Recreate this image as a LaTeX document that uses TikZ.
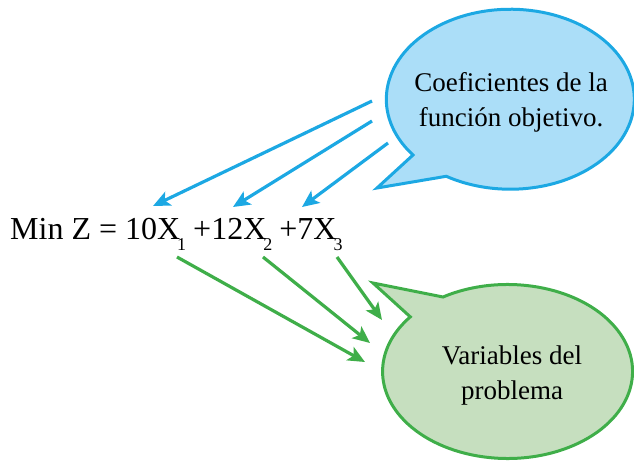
\documentclass[tikz,border=0pt]{standalone}
\usepackage{fontspec}
\setmainfont{Liberation Serif}
\usetikzlibrary{arrows.meta}
\definecolor{bline}{HTML}{1CA8E3}
\definecolor{bfill}{HTML}{ABDEF8}
\definecolor{gline}{HTML}{3FAE49}
\definecolor{gfill}{HTML}{C6DFBF}
\newcommand\lowsub[1]{\hspace{-3pt}\raisebox{-11pt}{\fontsize{18}{18}\selectfont #1}}
\tikzset{
  bubtext/.style={align=center,font=\fontsize{27}{35}\selectfont,inner sep=0pt},
  barrow/.style={draw=bline,line width=3.2pt,-{Stealth[length=17pt,width=15pt,inset=4pt]}},
  garrow/.style={draw=gline,line width=3.2pt,-{Stealth[length=17pt,width=15pt,inset=4pt]}},
}
\begin{document}
\begin{tikzpicture}[x=1pt,y=-1pt]
\useasboundingbox (0,0) rectangle (634,461);
% blue bubble
\filldraw[fill=bfill,draw=bline,line width=3pt,line join=miter]
  (413,155) arc[start angle=141.7,end angle=481.1,x radius=124,y radius=90]
  -- (377,188) -- cycle;
\node[bubtext] (coef) at (511,102) {Coeficientes de la\\función objetivo.};
% green bubble
\filldraw[fill=gfill,draw=gline,line width=3pt,line join=miter]
  (443,297) arc[start angle=238.9,end angle=578.9,x radius=125,y radius=87]
  -- (373,283) -- cycle;
\node[bubtext] (vars) at (512,375) {Variables del\\problema};
% formula
\node[anchor=base west,inner sep=0pt,font=\fontsize{32}{38}\selectfont] (eq) at (10,239)
  {Min Z = 10X\lowsub{1}\hspace{7pt}+12X\lowsub{2}\hspace{7pt}+7X\lowsub{3}};
% arrow endpoints
\coordinate (b1s) at (372,101); \coordinate (b1e) at (153,206);
\coordinate (b2s) at (372,121); \coordinate (b2e) at (233,207);
\coordinate (b3s) at (388,143); \coordinate (b3e) at (302,207);
\coordinate (g1s) at (177,257); \coordinate (g1e) at (365,362);
\coordinate (g2s) at (263,257); \coordinate (g2e) at (370,343);
\coordinate (g3s) at (337,257); \coordinate (g3e) at (382,320);
\draw[barrow] (b1s) -- (b1e);
\draw[barrow] (b2s) -- (b2e);
\draw[barrow] (b3s) -- (b3e);
\draw[garrow] (g1s) -- (g1e);
\draw[garrow] (g2s) -- (g2e);
\draw[garrow] (g3s) -- (g3e);
\end{tikzpicture}
\end{document}
